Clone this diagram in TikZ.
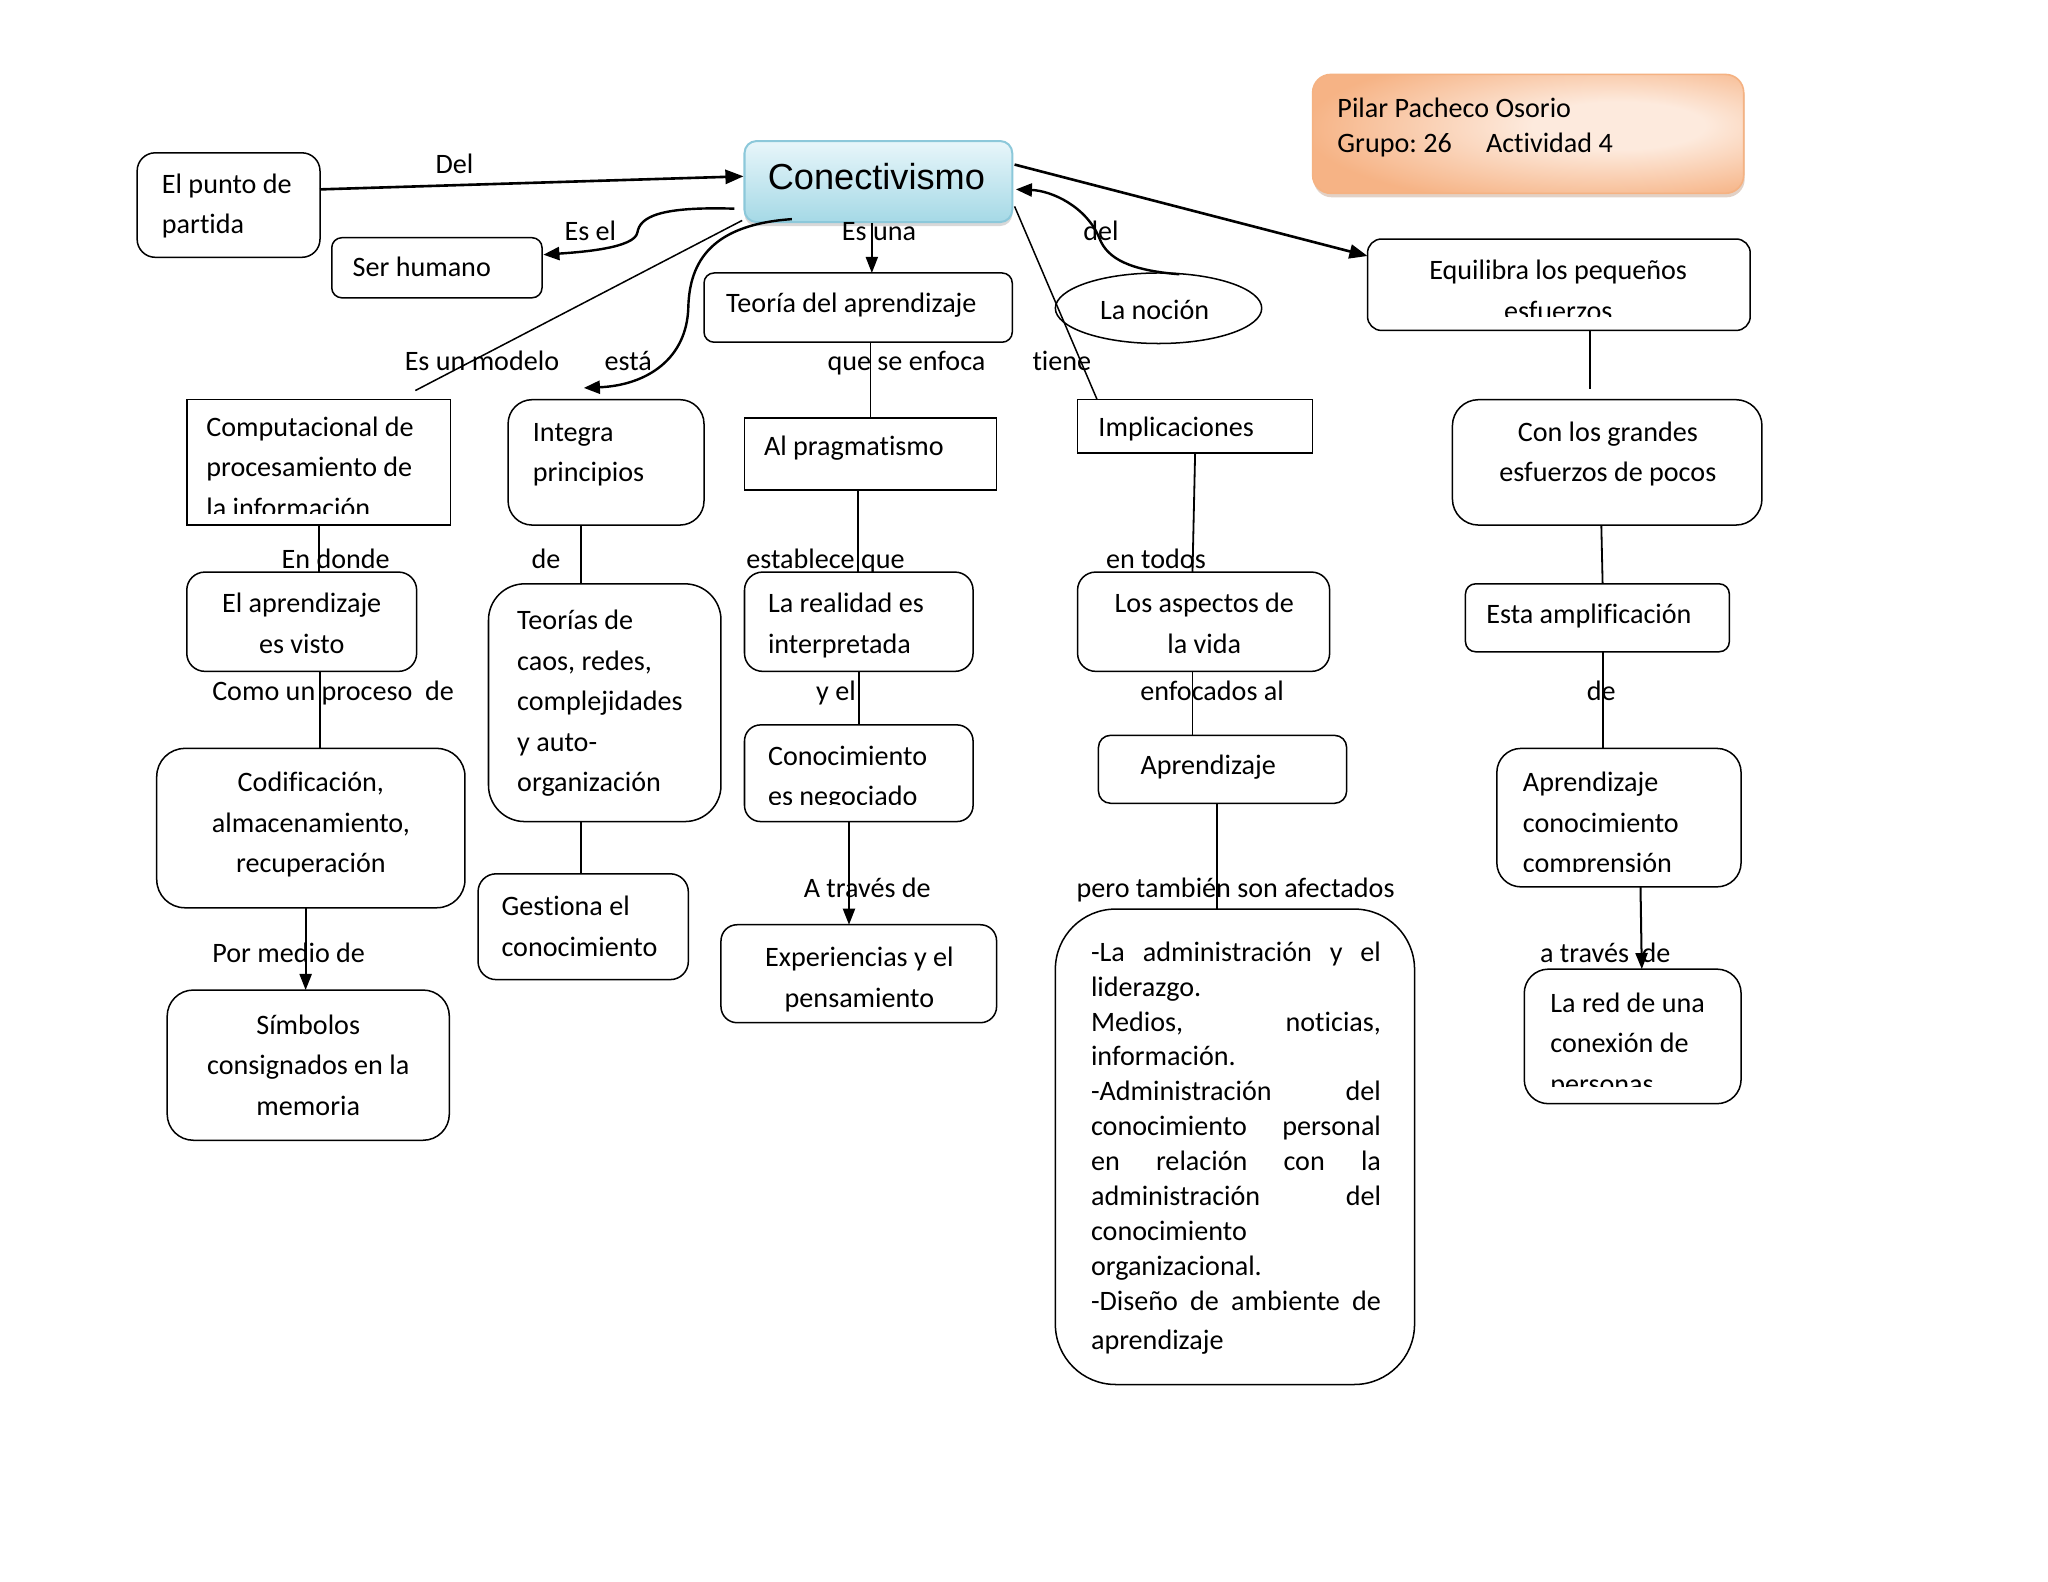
\documentclass[tikz,border=0pt]{standalone}
\usepackage{fontspec}
\setmainfont{Carlito}[Ligatures=NoCommon]
\newfontfamily\arialf{Liberation Sans}
\usetikzlibrary{arrows.meta,calc,shapes.geometric,shadows}
\frenchspacing
\definecolor{cbtop}{RGB}{232,246,250}
\definecolor{cbbot}{RGB}{165,217,230}
\definecolor{cbdraw}{RGB}{140,200,218}
\definecolor{orin}{RGB}{253,234,221}
\definecolor{orout}{RGB}{246,179,133}
\definecolor{ordraw}{RGB}{245,178,130}
\pgfdeclareradialshading{orsh}{\pgfpoint{12bp}{4bp}}{color(0bp)=(orin); color(10bp)=(orin); color(33bp)=(orout); color(80bp)=(orout)}
\newcommand\mkbox[6]{\node[#6, minimum width={(#4-#2)*0.65pt}, minimum height={(#5-#3)*0.65pt}] (#1) at ({(#2+#4)/2},{(#3+#5)/2}) {};}
\newcommand\txl[3]{\node[txt, anchor=base west] (#1) at (#2) {\begin{tabular}[t]{@{}l@{}}#3\end{tabular}};}
\newcommand\txc[3]{\node[txt, anchor=base] (#1) at (#2) {\begin{tabular}[t]{@{}c@{}}#3\end{tabular}};}
\newcommand\jl[1]{\makebox[144.3pt][s]{#1}}
\begin{document}
\begin{tikzpicture}[x=0.65pt,y=-0.65pt,
  bx/.style={draw=black,line width=0.75pt,inner sep=0pt,outer sep=0pt},
  rb/.style={bx,rounded corners=#1},
  txt/.style={inner sep=0pt,outer sep=0pt,font=\fontsize{14}{20.15}\selectfont},
  con/.style={line width=0.9pt},
  thin/.style={line width=0.75pt},
  arr/.style={line width=1pt,-{Triangle[length=8pt,width=6pt]}},
  carr/.style={line width=1.2pt,-{Triangle[length=8pt,width=6.5pt]}},
  tarr/.style={line width=1.3pt,-{Triangle[length=9pt,width=7pt]}}]
\fill[white] (0,0) rectangle (1568,1211);
\useasboundingbox (0,0) rectangle (1568,1211);

% ---------- boxes ----------
\mkbox{title}{1005}{57}{1335}{148}{draw=ordraw,line width=0.8pt,rounded corners=9pt,shading=orsh,drop shadow={opacity=0.35,shadow xshift=0.5pt,shadow yshift=-2pt,fill=orout!70!black},inner sep=0pt}
\mkbox{conect}{570}{108}{775}{170}{draw=cbdraw,line width=1pt,rounded corners=6pt,top color=cbtop,bottom color=cbbot,drop shadow={opacity=0.3,shadow xshift=0pt,shadow yshift=-2pt},inner sep=0pt}
\mkbox{punto}{105}{117}{245}{197}{rb=9pt}
\mkbox{ser}{254}{182}{415}{228}{rb=5pt}
\mkbox{teoria}{539}{209}{775}{262}{rb=5pt}
\node[bx,ellipse,minimum width={158*0.65pt},minimum height={54*0.65pt}] (nocion) at (887,236) {};
\mkbox{equi}{1047}{183}{1340}{253}{rb=7pt}
\mkbox{comp}{143}{306}{345}{402}{bx}
\mkbox{integ}{389}{306}{539}{402}{rb=12pt}
\mkbox{prag}{570}{320}{763}{375}{bx}
\mkbox{impl}{825}{306}{1005}{347}{bx}
\mkbox{grandes}{1112}{306}{1349}{402}{rb=13pt}
\mkbox{apv}{143}{438}{319}{514}{rb=9pt}
\mkbox{teo}{374}{447}{552}{629}{rb=18pt}
\mkbox{real}{570}{438}{745}{514}{rb=9pt}
\mkbox{asp}{825}{438}{1018}{514}{rb=9pt}
\mkbox{ampl}{1122}{447}{1324}{499}{rb=5pt}
\mkbox{cod}{120}{573}{356}{695}{rb=14pt}
\mkbox{conoc}{570}{555}{745}{629}{rb=8pt}
\mkbox{apr}{841}{563}{1031}{615}{rb=6pt}
\mkbox{apc}{1146}{573}{1333}{679}{rb=12pt}
\mkbox{gest}{366}{669}{527}{750}{rb=9pt}
\mkbox{exper}{552}{708}{763}{783}{rb=8pt}
\mkbox{big}{808}{696}{1083}{1060}{rb=30pt}
\mkbox{red}{1167}{742}{1333}{845}{rb=12pt}
\mkbox{sim}{128}{758}{344}{873}{rb=13pt}

% ---------- box texts ----------
\txl{titleT}{1024,90}{Pilar Pacheco Osorio\\[-2.6pt]Grupo: 26\hspace{17pt}Actividad 4}
\node[inner sep=0pt,font=\arialf\fontsize{18}{20}\selectfont] (conectT) at (671,135) {Conectivismo};
\txl{puntoT}{124,148}{El punto de\\partida}
\txl{serT}{270,212}{Ser humano}
\txl{teoriaT}{556,239}{Teoría del aprendizaje}
\node[txt] (nocionT) at (884,237) {La noción};
\begin{scope}
\clip (equi.north west) rectangle ($(equi.south east)+(0,-11)$);
\txc{equiT}{1193,214}{Equilibra los pequeños\\esfuerzos}
\end{scope}
\begin{scope}
\clip (comp.north west) rectangle ($(comp.south east)+(0,-9)$);
\txl{compT}{158,334}{Computacional de\\procesamiento de\\la información}
\end{scope}
\txl{integT}{408,338}{Integra\\principios}
\txl{pragT}{585,349}{Al pragmatismo}
\txl{implT}{841,334}{Implicaciones}
\txc{grandesT}{1231,338}{Con los grandes\\esfuerzos de pocos}
\txc{apvT}{231,469}{El aprendizaje\\es visto}
\txl{teoT}{396,482}{Teorías de\\caos, redes,\\complejidades\\y auto-\\organización}
\txl{realT}{588,469}{La realidad es\\interpretada}
\txc{aspT}{922,469}{Los aspectos de\\la vida}
\txl{amplT}{1138,477}{Esta amplificación}
\txc{codT}{238,606}{Codificación,\\almacenamiento,\\recuperación}
\begin{scope}
\clip (conoc.north west) rectangle ($(conoc.south east)+(0,-13)$);
\txl{conocT}{588,586}{Conocimiento\\es negociado}
\end{scope}
\node[txt,anchor=base] (aprT) at (925,593) {Aprendizaje};
\begin{scope}
\clip (apc.north west) rectangle ($(apc.south east)+(0,-12)$);
\txl{apcT}{1166,606}{Aprendizaje\\conocimiento\\comprensión}
\end{scope}
\txl{gestT}{384,701}{Gestiona el\\conocimiento}
\txc{experT}{658,740}{Experiencias y el\\pensamiento}
\begin{scope}
\clip (red.north west) rectangle ($(red.south east)+(0,-13)$);
\txl{redT}{1187,775}{La red de una\\conexión de\\personas}
\end{scope}
\txc{simT}{236,792}{Símbolos\\consignados en la\\memoria}
\node[inner sep=0pt,anchor=base west,font=\fontsize{14}{17.36}\selectfont] (bigT) at (835,736)
 {\begin{tabular}[t]{@{}l@{}}\jl{-La administración y el}\\liderazgo.\\\jl{Medios, noticias,}\\información.\\\jl{-Administración del}\\\jl{conocimiento personal}\\\jl{en relación con la}\\\jl{administración del}\\conocimiento\\organizacional.\\\jl{-Diseño de ambiente de}\\[2pt]aprendizaje\end{tabular}};

% ---------- connector attachment points ----------
\coordinate (pEsuna) at ($(conect.south)+(-5,0)$);
\coordinate (pEquiS) at ($(equi.south)+(24,0)$);
\coordinate (equiEnd) at ($(equi.south)+(24,45)$);
\coordinate (pApvS) at ($(apv.south)+(14,0)$);
\coordinate (pCodS) at ($(cod.south)+(-4,0)$);
\coordinate (pIntegS) at ($(integ.south)+(-19,0)$);
\coordinate (pTeoS) at ($(teo.south)+(-18,0)$);
\coordinate (pPragS) at ($(prag.south)+(-9.5,0)$);
\coordinate (pConocS) at ($(conoc.south)+(-7.5,0)$);
\coordinate (pAspN) at ($(asp.north)+(-8.5,0)$);
\coordinate (pAspS) at ($(asp.south)+(-8.5,0)$);
\coordinate (pAprS) at ($(apr.south)+(-4,0)$);
\coordinate (pGrandesS) at ($(grandes.south)+(-4.5,0)$);
\coordinate (pAmplN) at ($(ampl.north)+(4,0)$);
\coordinate (pAmplS) at ($(ampl.south)+(4,0)$);
\coordinate (pApcS) at ($(apc.south)+(16.5,0)$);
\coordinate (pRedN) at ($(red.north)+(7,0)$);

% ---------- connectors ----------
\draw[tarr] ($(punto.east)+(0,-12)$) -- ($(conect.west)+(0,-4)$);
\draw[carr] ($(conect.south west)+(-7,-11)$) .. controls (505,158) and (490,166) .. (488,178)
  .. controls (486,190) and (445,193) .. ($(ser.east)+(1,-10)$);
\draw[arr] (pEsuna) -- (pEsuna |- teoria.north);
\draw[thin] ($(conect.south west)+(-1,-2)$) -- ($(comp.north)+(74,-7)$);
\draw[carr] ($(conect.south west)+(37,-3)$) .. controls (545,172) and (528,200) .. (527,235)
  .. controls (526,275) and (495,295) .. ($(integ.north)+(-17,-9)$);
\draw[carr] ($(nocion.north)+(16,1)$) .. controls (865,207) and (848,198) .. (842,183)
  .. controls (832,158) and (805,146) .. ($(conect.east)+(2,6)$);
\draw[thin] ($(conect.east)+(1,19)$) -- ($(impl.north west)+(15,0)$);
\draw[tarr] ($(conect.east)+(1,-13)$) -- ($(equi.west)+(0,-22)$);
\draw[con] (prag.north |- teoria.south) -- (prag.north);
\draw[con] (pEquiS) -- (equiEnd);
\draw[con] (comp.south) -- (comp.south |- apv.north);
\draw[con] (pApvS) -- (pApvS |- cod.north);
\draw[arr] (pCodS) -- (pCodS |- sim.north);
\draw[con] (pIntegS) -- (pIntegS |- teo.north);
\draw[con] (pTeoS) -- (pTeoS |- gest.north);
\draw[con] (pPragS) -- (pPragS |- real.north);
\draw[con] (real.south) -- (real.south |- conoc.north);
\draw[arr] (pConocS) -- (pConocS |- exper.north);
\draw[con] (impl.south) -- (pAspN);
\draw[con] (pAspS) -- (pAspS |- apr.north);
\draw[con] (pAprS) -- (pAprS |- big.north);
\draw[con] (pGrandesS) -- (pAmplN);
\draw[con] (pAmplS) -- (pAmplS |- apc.north);
\draw[arr] (pApcS) -- (pRedN);

% ---------- connector labels ----------
\node[txt,anchor=base] (lDel) at (348,133) {Del};
\node[txt,anchor=base] (lEsel) at (452,184) {Es el};
\node[txt,anchor=base] (lEsuna) at (673,184) {Es una};
\node[txt,anchor=base] (ldel) at (843,184) {del};
\node[txt,anchor=base] (lmodelo) at (369,284) {Es un modelo};
\node[txt,anchor=base] (lesta) at (481,284) {está};
\node[txt,anchor=base] (lenfoca) at (694,284) {que se enfoca};
\node[txt,anchor=base] (ltiene) at (813,284) {tiene};
\node[txt,anchor=base] (lendonde) at (257,435) {En donde};
\node[txt,anchor=base] (lde1) at (418,435) {de};
\node[txt,anchor=base] (lestablece) at (632,435) {establece que};
\node[txt,anchor=base] (lentodos) at (885,435) {en todos};
\node[txt,anchor=base] (lcomo) at (255,536) {Como un proceso\ \ de};
\node[txt,anchor=base] (lyel) at (640,536) {y el};
\node[txt,anchor=base] (lenfocados) at (928,536) {enfocados al};
\node[txt,anchor=base] (lde2) at (1226,536) {de};
\node[txt,anchor=base] (latraves) at (664,687) {A través de};
\node[txt,anchor=base] (lpero) at (946,687) {pero también son afectados};
\node[txt,anchor=base] (lpormedio) at (221,737) {Por medio de};
\node[txt,anchor=base] (latraves2) at (1229,737) {a través\ \ de};
\end{tikzpicture}
\end{document}
